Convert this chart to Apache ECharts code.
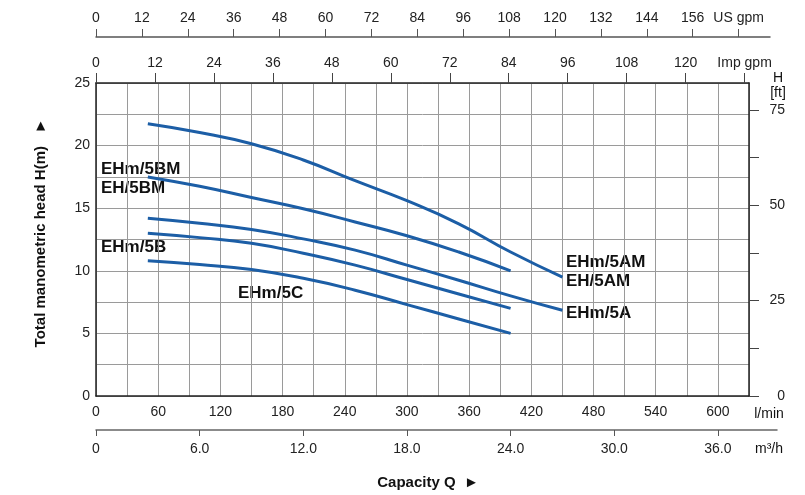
<!DOCTYPE html>
<html>
<head>
<meta charset="utf-8">
<title>EH pump curves</title>
<script src="https://cdn.jsdelivr.net/npm/echarts@6/dist/echarts.min.js"></script>
<style>
    html, body { margin: 0; padding: 0; background: #fff; }
    #pumpCurve { width: 805px; height: 495px; }
</style>
</head>
<body>
<div id="pumpCurve"></div>
<script>
// capacity points (l/min)
var flowLong = [50, 100, 150, 200, 250, 300, 350, 400, 450];
var flowShort = [50, 100, 150, 200, 250, 300, 350, 400];

// head (m) per model
var headAM = [21.75, 21.05, 20.15, 18.85, 17.2, 15.6, 13.75, 11.5, 9.5];
var headBM = [17.5, 16.75, 15.85, 14.95, 13.9, 12.8, 11.5, 10.0];
var headA = [14.2, 13.8, 13.3, 12.55, 11.65, 10.45, 9.25, 8.0, 6.85];
var headB = [13.0, 12.65, 12.2, 11.4, 10.45, 9.3, 8.15, 7.0];
var headC = [10.8, 10.5, 10.1, 9.4, 8.45, 7.3, 6.15, 5.0];

// secondary scale ticks
var usGpmTicks = [0, 12, 24, 36, 48, 60, 72, 84, 96, 108, 120, 132, 144, 156, 168];
var impGpmTicks = [0, 12, 24, 36, 48, 60, 72, 84, 96, 108, 120, 132];
var m3hTicks = [0, 6, 12, 18, 24, 30, 36];
var ftTicks = [0, 12.5, 25, 37.5, 50, 62.5, 75];
var ftLabels = [0, 25, 50, 75];

var FONT = "'Liberation Sans', Arial, sans-serif";
var LINE_BLUE = '#1c5ea6';

function pairs(xs, ys) {
    var out = [];
    for (var i = 0; i < xs.length; i++) {
        out.push([xs[i], ys[i]]);
    }
    return out;
}

function curve(name, xs, ys) {
    return {
        name: name,
        type: 'line',
        xAxisIndex: 0,
        yAxisIndex: 0,
        smooth: true,
        symbol: 'none',
        lineStyle: { color: LINE_BLUE, width: 3 },
        data: pairs(xs, ys)
    };
}

function note(text, x, y, opts) {
    opts = opts || {};
    return {
        type: 'text',
        x: x,
        y: y,
        rotation: opts.rotation || 0,
        style: {
            text: text,
            fill: '#111',
            font: (opts.bold ? 'bold ' : '') + (opts.size || 14) + 'px ' + FONT,
            align: opts.align || 'left',
            verticalAlign: 'middle'
        }
    };
}

var labelStyle = { color: '#222', fontSize: 14, fontFamily: FONT };

function pumpCurveChart() {
    var myChart = echarts.init(document.getElementById('pumpCurve'), null, { renderer: 'canvas' });
    var option = {
        animation: false,
        backgroundColor: '#fff',
        grid: [
            // main plot
            { left: 96, top: 83, width: 653, height: 313, outerBoundsMode: 'none' },
            // US gpm scale
            { left: 96, top: 37, width: 674, height: 20, outerBoundsMode: 'none' },
            // m3/h scale
            { left: 96, top: 410, width: 681, height: 20, outerBoundsMode: 'none' }
        ],
        xAxis: [
            {
                type: 'value', gridIndex: 0, position: 'bottom',
                min: 0, max: 630, interval: 30,
                axisLine: { onZero: false, lineStyle: { color: '#222', width: 1.5 } },
                axisTick: { show: false },
                axisLabel: Object.assign({
                    margin: 9,
                    formatter: function (v) { return (v % 60 === 0 && v <= 600) ? String(v) : ''; }
                }, labelStyle),
                splitLine: { show: true, lineStyle: { color: '#9a9a9a', width: 1 } }
            },
            {
                type: 'value', gridIndex: 0, position: 'top',
                min: 0, max: 132.9,
                axisLine: { onZero: false, lineStyle: { color: '#222', width: 1.5 } },
                axisTick: { show: true, length: 10, customValues: impGpmTicks, lineStyle: { color: '#444' } },
                axisLabel: Object.assign({
                    margin: 13,
                    customValues: impGpmTicks,
                    formatter: function (v) { return v === 132 ? 'Imp gpm' : String(v); }
                }, labelStyle),
                splitLine: { show: false }
            },
            {
                type: 'value', gridIndex: 1, position: 'top',
                min: 0, max: 176.2,
                axisLine: { onZero: false, lineStyle: { color: '#555', width: 1.5 } },
                axisTick: { show: true, length: 8, customValues: usGpmTicks, lineStyle: { color: '#555' } },
                axisLabel: Object.assign({
                    margin: 12,
                    customValues: usGpmTicks,
                    formatter: function (v) { return v === 168 ? 'US gpm' : String(v); }
                }, labelStyle),
                splitLine: { show: false }
            },
            {
                type: 'value', gridIndex: 2, position: 'bottom',
                min: 0, max: 39.42,
                axisLine: { onZero: false, lineStyle: { color: '#666', width: 1.5 } },
                axisTick: { show: true, length: 6, customValues: m3hTicks, lineStyle: { color: '#555' } },
                axisLabel: Object.assign({
                    margin: 12,
                    customValues: m3hTicks,
                    formatter: function (v) { return v === 0 ? '0' : v.toFixed(1); }
                }, labelStyle),
                splitLine: { show: false }
            }
        ],
        yAxis: [
            {
                type: 'value', gridIndex: 0, position: 'left',
                min: 0, max: 25, interval: 2.5,
                axisLine: { show: true, onZero: false, lineStyle: { color: '#222', width: 1.5 } },
                axisTick: { show: false },
                axisLabel: Object.assign({
                    margin: 6,
                    formatter: function (v) { return v % 5 === 0 ? String(v) : ''; }
                }, labelStyle),
                splitLine: { show: true, lineStyle: { color: '#9a9a9a', width: 1 } }
            },
            {
                type: 'value', gridIndex: 0, position: 'right',
                min: 0, max: 25 / 0.3048,
                axisLine: { show: true, onZero: false, lineStyle: { color: '#222', width: 1.5 } },
                axisTick: { show: true, length: 10, customValues: ftTicks, lineStyle: { color: '#444' } },
                axisLabel: Object.assign({
                    margin: 36,
                    align: 'right',
                    customValues: ftLabels
                }, labelStyle),
                splitLine: { show: false }
            },
            { type: 'value', gridIndex: 1, show: false, min: 0, max: 1, splitLine: { show: false } },
            { type: 'value', gridIndex: 2, show: false, min: 0, max: 1, splitLine: { show: false } }
        ],
        series: [
            curve('EHm/5AM EH/5AM', flowLong, headAM),
            curve('EHm/5BM EH/5BM', flowShort, headBM),
            curve('EHm/5A', flowLong, headA),
            curve('EHm/5B', flowShort, headB),
            curve('EHm/5C', flowShort, headC)
        ],
        graphic: [
            note('EHm/5BM', 101, 169, { bold: true, size: 17 }),
            note('EH/5BM', 101, 188, { bold: true, size: 17 }),
            note('EHm/5B', 101, 247, { bold: true, size: 17 }),
            note('EHm/5C', 238, 293, { bold: true, size: 17 }),
            note('EHm/5AM', 566, 262, { bold: true, size: 17 }),
            note('EH/5AM', 566, 281, { bold: true, size: 17 }),
            note('EHm/5A', 566, 313, { bold: true, size: 17 }),
            note('H', 778, 78, { align: 'center' }),
            note('[ft]', 778, 93, { align: 'center' }),
            note('l/min', 769, 414, { align: 'center' }),
            note('m\u00b3/h', 769, 449, { align: 'center' }),
            note('Capacity Q  \u25ba', 428, 483, { bold: true, size: 15, align: 'center' }),
            note('Total manometric head H(m)   \u25ba', 41, 233, { bold: true, size: 15, align: 'center', rotation: Math.PI / 2 })
        ]
    };
    if (option && typeof option === 'object') {
        myChart.setOption(option, true);
    }
    window.addEventListener('resize', function () {
        myChart.resize();
    });
}

pumpCurveChart();
</script>
</body>
</html>
